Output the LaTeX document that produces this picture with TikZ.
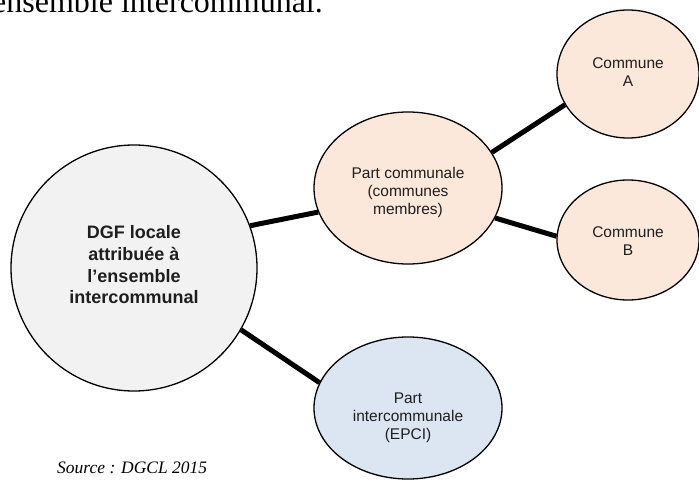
\documentclass[tikz,border=0pt]{standalone}
\usepackage{fontspec}
\setmainfont{Liberation Serif}
\newfontfamily\arialf{Liberation Sans}
\usetikzlibrary{shapes.geometric,backgrounds}
\definecolor{peach}{RGB}{252,232,218}
\definecolor{paleblue}{RGB}{220,230,242}
\definecolor{palegray}{RGB}{242,242,242}
\definecolor{txt}{RGB}{30,30,30}
\begin{document}
\begin{tikzpicture}[x=1pt,y=-1pt,
  bub/.style={ellipse, draw=black, line width=1.3pt, inner sep=0pt},
  lbl/.style={align=center, inner sep=0pt, text=txt, font=\arialf\fontsize{15.5}{18}\selectfont},
  biglbl/.style={align=center, inner sep=0pt, text=txt, font=\arialf\bfseries\fontsize{18}{21.7}\selectfont},
  link/.style={line width=5pt, draw=black}]
\useasboundingbox (0,0) rectangle (699,484);
\clip (0,0) rectangle (699,484);

% title fragment
\node[anchor=base east, inner sep=0pt, font=\fontsize{32}{36}\selectfont] (title) at (323,13) {ensemble intercommunal.};

% shapes
\node[circle, draw=black, line width=1.3pt, fill=palegray, minimum size=246pt, inner sep=0pt] (big) at (134,268) {};
\node[bub, fill=peach, minimum width=188pt, minimum height=152pt] (pc) at (408,188) {};
\node[bub, fill=peach, minimum width=142pt, minimum height=128pt] (ca) at (628,74) {};
\node[bub, fill=peach, minimum width=142pt, minimum height=120pt] (cb) at (628,240) {};
\node[bub, fill=paleblue, minimum width=188pt, minimum height=142pt] (ep) at (408,408) {};

% labels
\node[biglbl] (bigt) at (134,265) {DGF locale\\attribuée à\\l’ensemble\\intercommunal};
\node[lbl] (pct) at (408,192) {Part communale\\(communes\\membres)};
\node[lbl] (cat) at (628,72) {Commune\\A};
\node[lbl] (cbt) at (628,241) {Commune\\B};
\node[lbl] (ept) at (408,418) {Part\\intercommunale\\(EPCI)};

% connectors
\begin{scope}[on background layer]
\draw[link] (big.20.7) -- (pc.195.9);
\draw[link] (pc.23) -- (ca.206);
\draw[link] (pc.341) -- (cb.177.6);
\draw[link] (big.330) -- (ep.164);
\end{scope}

% source
\node[anchor=base west, inner sep=0pt, font=\itshape\fontsize{17.5}{20}\selectfont] (src) at (57,473) {Source~: DGCL 2015};
\end{tikzpicture}
\end{document}
